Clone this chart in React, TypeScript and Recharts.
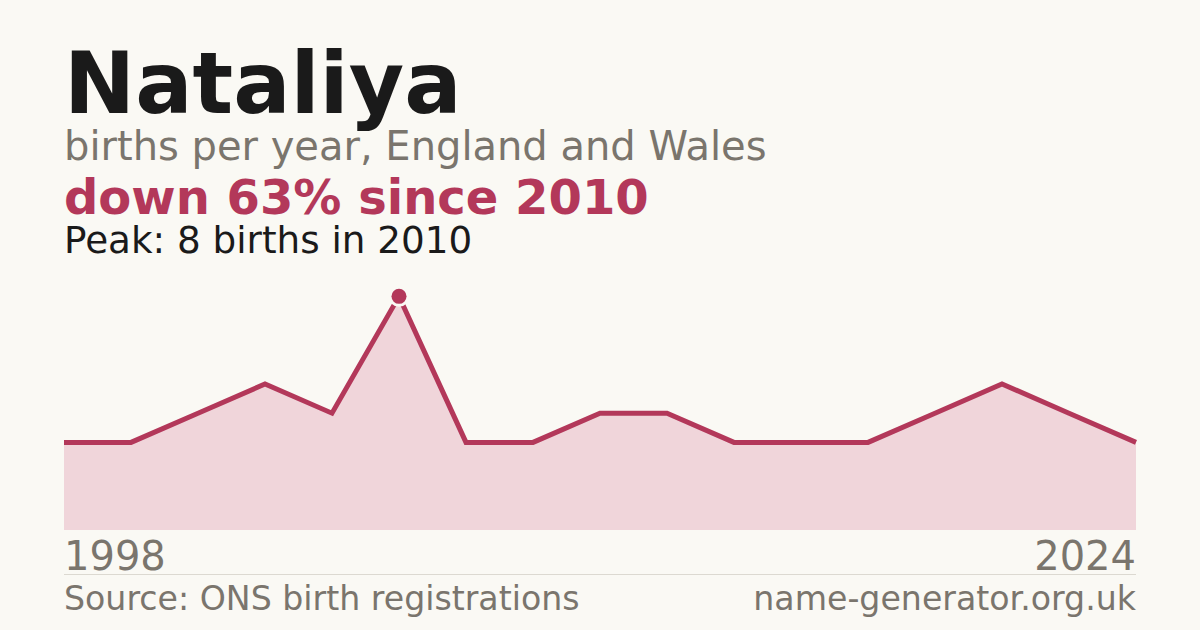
import React from 'react';
import { AreaChart, Area, XAxis, YAxis } from 'recharts';

const years = ['1998', '2003', '2005', '2006', '2008', '2010', '2011', '2012', '2013', '2014', '2016', '2017', '2018', '2019', '2020', '2022', '2024'];
const births = [3, 3, 4, 5, 4, 8, 3, 3, 4, 4, 3, 3, 3, 4, 5, 4, 3];

const data = years.map((year, i) => ({ year, births: births[i] }));

const RED = '#b3385a';
const GREY = '#7a756d';
const BG = '#faf9f4';
const FONT = '"DejaVu Sans", sans-serif';

const peak = Math.max(...births);
const peakIndex = births.indexOf(peak);

// only the peak year gets a marker
const PeakDot = (props: any) => {
  const { cx, cy, index } = props;
  if (index !== peakIndex) return <g key={index} />;
  return (
    <g key={index}>
      <circle cx={cx} cy={cy} r={10.5} fill={BG} />
      <circle cx={cx} cy={cy} r={7.5} fill={RED} />
    </g>
  );
};

const App: React.FC = () => {
  return (
    <div style={{ position: 'fixed', left: 0, top: 0, width: 1200, height: 630, background: BG, fontFamily: FONT }}>
      <AreaChart
        width={1200}
        height={630}
        data={data}
        margin={{ top: 273, right: 64, left: 64, bottom: 100 }}
        style={{ position: 'absolute', left: 0, top: 0, overflow: 'visible' }}
      >
        <XAxis dataKey="year" hide />
        <YAxis hide domain={[0, 8.8]} />
        <Area
          type="linear"
          dataKey="births"
          stroke={RED}
          strokeWidth={5}
          fill="#f0d5da"
          fillOpacity={1}
          dot={PeakDot}
          activeDot={false}
          isAnimationActive={false}
        />
      </AreaChart>
      <svg width={1200} height={630} style={{ position: 'absolute', left: 0, top: 0, pointerEvents: 'none' }}>
        <text x={64} y={113} fontSize={85} fontWeight="bold" fill="#1a1a1a">Nataliya</text>
        <text x={64} y={160} fontSize={40} fill={GREY}>births per year, England and Wales</text>
        <text x={64} y={214} fontSize={48} fontWeight="bold" fill={RED}>down 63% since 2010</text>
        <text x={64} y={253} fontSize={37.3} fill="#1a1a1a">Peak: 8 births in 2010</text>
        <text x={64} y={570} fontSize={40} fill={GREY}>{years[0]}</text>
        <text x={1136} y={570} fontSize={40} fill={GREY} textAnchor="end">{years[years.length - 1]}</text>
        <line x1={64} x2={1136} y1={574.5} y2={574.5} stroke="#dcd9d1" strokeWidth={1} />
        <text x={64} y={610} fontSize={33.2} fill={GREY}>Source: ONS birth registrations</text>
        <text x={1136} y={610} fontSize={33.2} fill={GREY} textAnchor="end">name-generator.org.uk</text>
      </svg>
    </div>
  );
};

export default App;
